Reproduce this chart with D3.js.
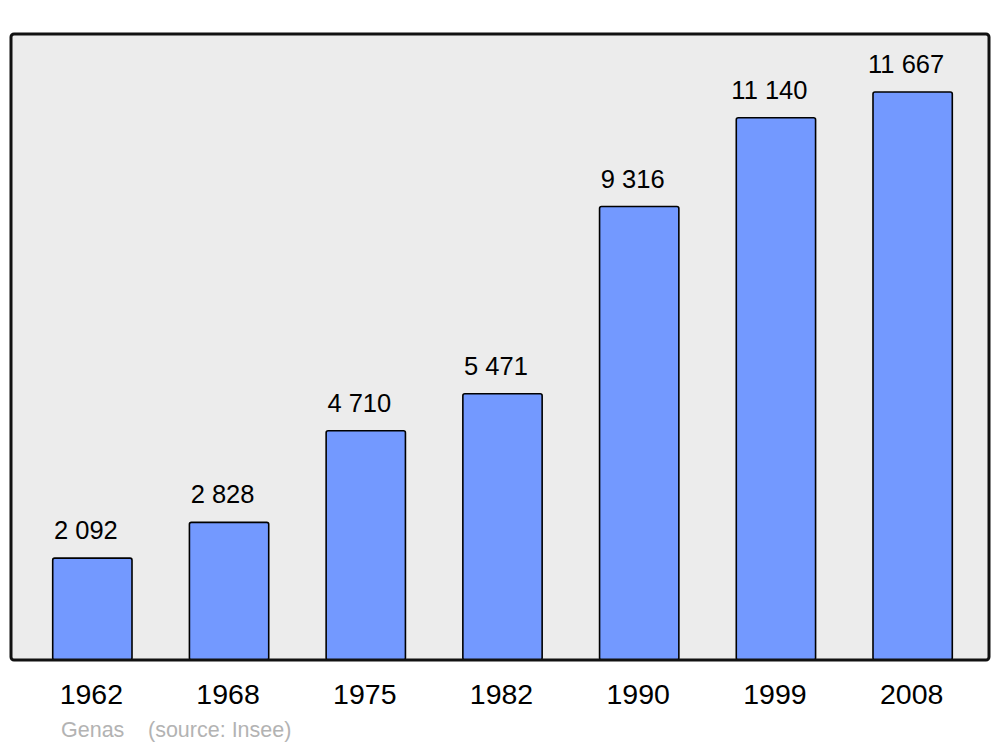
<!DOCTYPE html>
<html lang="fr">
<head>
<meta charset="utf-8">
<title>Genas population</title>
<script src="https://d3js.org/d3.v7.min.js"></script>
<style>
  body { margin: 0; background: #fff; }
  svg text { font-family: "Liberation Sans", Arial, sans-serif; }
  .value { font-size: 25.5px; fill: #000; }
  .year { font-size: 28.5px; fill: #000; }
  .source { font-size: 21.5px; fill: #b3b3b3; }
</style>
</head>
<body>
<svg id="chart" width="1000" height="747"></svg>
<script>
// data
var years = ["1962", "1968", "1975", "1982", "1990", "1999", "2008"];
var population = [2092, 2828, 4710, 5471, 9316, 11140, 11667];
var valueLabels = ["2 092", "2 828", "4 710", "5 471", "9 316", "11 140", "11 667"];
var town = "Genas";
var source = "(source: Insee)";

var svg = d3.select("#chart");

var frame = {left: 11, right: 989, top: 34, bottom: 660};

var x = d3.scaleBand()
    .domain(years)
    .range([24, 981])
    .paddingInner(0.42)
    .paddingOuter(0.21);

var y = d3.scaleLinear()
    .domain([0, 12860])
    .range([frame.bottom, frame.top]);

// background panel
svg.append("rect")
  .attr("x", frame.left)
  .attr("y", frame.top)
  .attr("width", frame.right - frame.left)
  .attr("height", frame.bottom - frame.top)
  .attr("rx", 3)
  .attr("fill", "#ececec")
  .attr("stroke", "none");

var data = years.map(function(d, i) { return {year: d, value: population[i], label: valueLabels[i]}; });

// bars
svg.append("g")
  .selectAll("rect")
  .data(data)
  .enter()
  .append("rect")
    .attr("x", function(d) { return x(d.year); })
    .attr("y", function(d) { return y(d.value); })
    .attr("width", x.bandwidth())
    .attr("height", function(d) { return y(0) - y(d.value); })
    .attr("rx", 2)
    .attr("fill", "#7399ff")
    .attr("stroke", "#000")
    .attr("stroke-width", 1.6);

// frame drawn last so the bar bottoms sit under it
svg.append("rect")
  .attr("x", frame.left)
  .attr("y", frame.top)
  .attr("width", frame.right - frame.left)
  .attr("height", frame.bottom - frame.top)
  .attr("rx", 3)
  .attr("fill", "none")
  .attr("stroke", "#111")
  .attr("stroke-width", 3);

// value labels
svg.append("g")
  .selectAll("text")
  .data(data)
  .enter()
  .append("text")
    .attr("class", "value")
    .attr("x", function(d) { return x(d.year) + x.bandwidth() / 2 - 6.5; })
    .attr("y", function(d) { return y(d.value) - 19; })
    .attr("text-anchor", "middle")
    .text(function(d) { return d.label; });

// year labels
svg.append("g")
  .selectAll("text")
  .data(data)
  .enter()
  .append("text")
    .attr("class", "year")
    .attr("x", function(d) { return x(d.year) + x.bandwidth() / 2 - 1; })
    .attr("y", 704)
    .attr("text-anchor", "middle")
    .text(function(d) { return d.year; });

// footer
svg.append("text")
  .attr("class", "source")
  .attr("x", 61)
  .attr("y", 737)
  .text(town);
svg.append("text")
  .attr("class", "source")
  .attr("x", 148)
  .attr("y", 737)
  .text(source);
</script>
</body>
</html>
